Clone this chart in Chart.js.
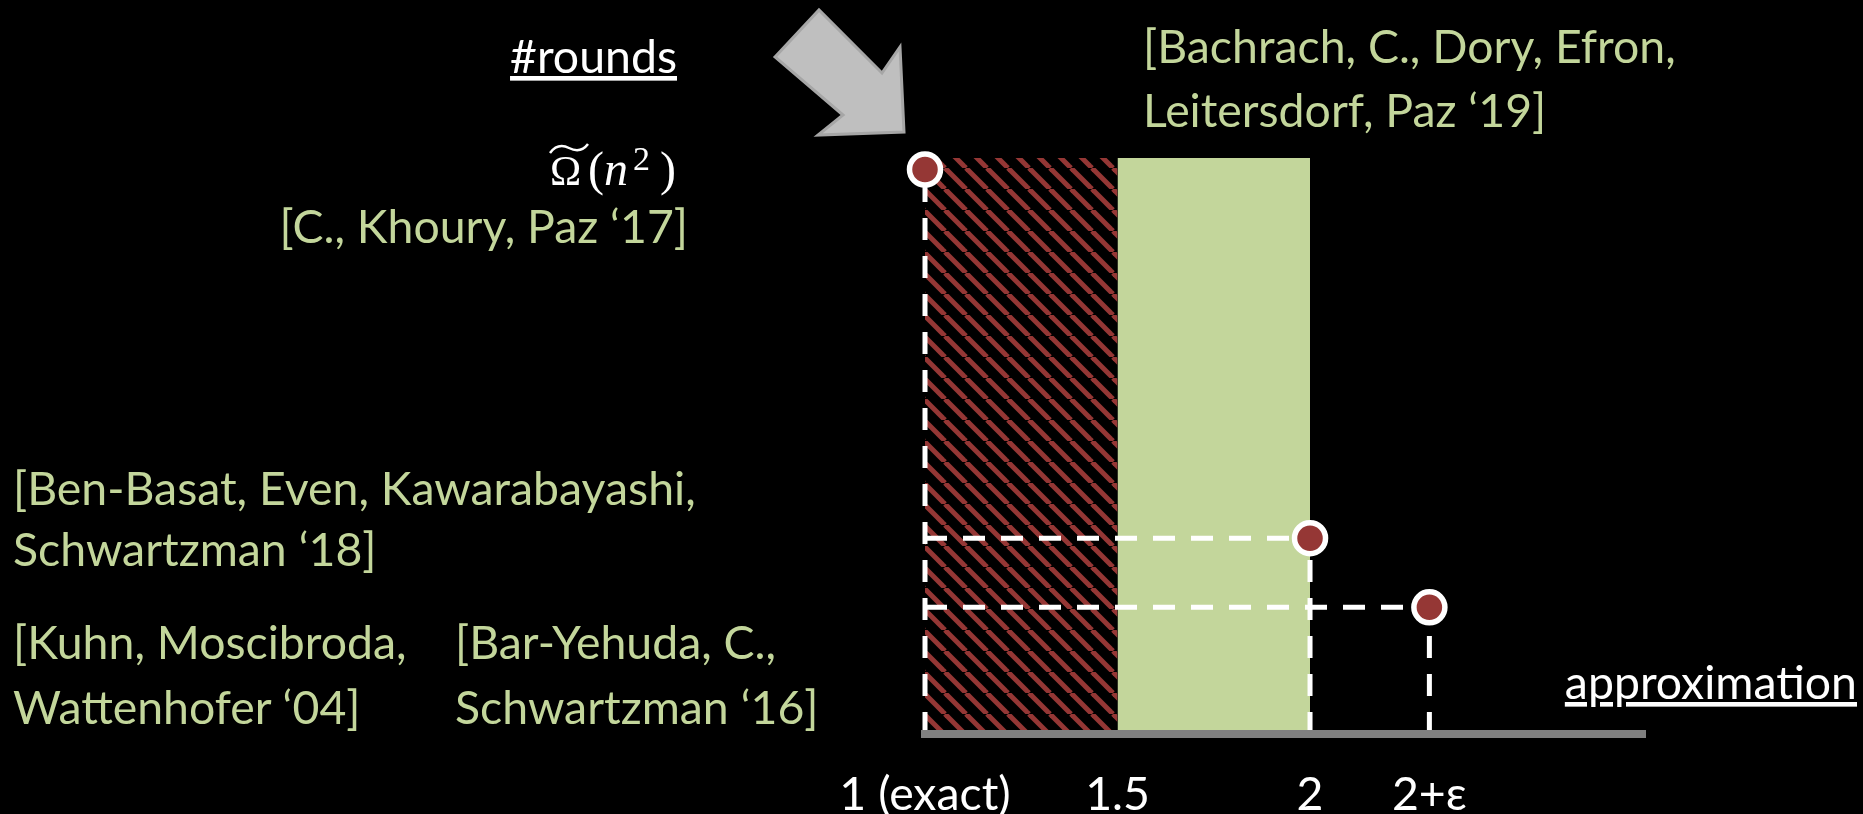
<!DOCTYPE html>
<html>
<head>
<meta charset="utf-8">
<script src="https://cdn.jsdelivr.net/npm/chart.js@4.4.1/dist/chart.umd.min.js"></script>
<style>
  html, body { margin: 0; padding: 0; background: #000; overflow: hidden; }
  #wrap { position: relative; width: 1863px; height: 814px; }
  #chart, #notes { position: absolute; left: 0; top: 0; }
  .note { font-family: Lato, sans-serif; }
  .green { fill: #c3d69b; }
  .white { fill: #ffffff; }
</style>
</head>
<body>
<div id="wrap">
  <canvas id="chart" width="1863" height="814"></canvas>
  <svg id="notes" width="1863" height="814" xmlns="http://www.w3.org/2000/svg">
    <!-- big grey arrow pointing at the top point -->
    <polygon points="775,57 819,10 882,73 900,47 904,132 818,135 843,115"
             fill="#bfbfbf" stroke="#a6a6a6" stroke-width="3" stroke-linejoin="miter"/>

    <text class="note white" x="677" y="73" text-anchor="end" text-decoration="underline">#rounds</text>

    <!-- Ω̃(n²) -->
    <text fill="#fff" font-family="Liberation Serif, serif" y="185"><tspan x="550" font-size="42">Ω</tspan><tspan x="588" font-size="48">(</tspan><tspan x="604" font-size="48" font-style="italic">n</tspan><tspan x="633" y="170" font-size="34">2</tspan><tspan x="660" y="185" font-size="48">)</tspan></text>
    <path d="M550,153 C556,145 563,145 569,148 C575,151 582,152 588,144" stroke="#fff" stroke-width="2.5" fill="none"/>

    <text class="note green" x="688" y="243" text-anchor="end">[C., Khoury, Paz ‘17]</text>

    <text class="note green" x="1143" y="63">[Bachrach, C., Dory, Efron,</text>
    <text class="note green" x="1143" y="127">Leitersdorf, Paz ‘19]</text>

    <text class="note green" x="13" y="505">[Ben-Basat, Even, Kawarabayashi,</text>
    <text class="note green" x="13" y="566">Schwartzman ‘18]</text>

    <text class="note green" x="13" y="659">[Kuhn, Moscibroda,</text>
    <text class="note green" x="13" y="724">Wattenhofer ‘04]</text>

    <text class="note green" x="455" y="659">[Bar-Yehuda, C.,</text>
    <text class="note green" x="455" y="724">Schwartzman ‘16]</text>

    <text class="note white" x="1857" y="699" text-anchor="end" text-decoration="underline">approximation</text>
  </svg>
</div>
<script>
// approximation ratio axis
var approxTicks  = [1, 1.5, 2, 2.31];
var approxLabels = ['1 (exact)', '1.5', '2', '2+ε'];
var xMax = 2.87;

// shaded ranges on the approximation axis
var lowerBoundRange = [1, 1.5];   // hatched: Ω̃(n²) lower bound region
var upperBoundRange = [1.5, 2];   // green: [Bachrach et al. '19]
var rangeTop = 10;
var yMax = 10;

// known results (approximation, #rounds)
var resultX = [1, 2, 2.31];
var resultY = [9.8, 3.4, 2.2];

// pick the font size so Lato takes the same width as the original text
var probe = document.createElement('canvas').getContext('2d');
probe.font = '40px Lato';
var fs = Math.round(40 * 683 / probe.measureText('[Ben-Basat, Even, Kawarabayashi,').width * 10) / 10;
document.querySelectorAll('.note').forEach(function (t) { t.setAttribute('font-size', fs); });

function makeHatch() {
    var s = 21;
    var c = document.createElement('canvas');
    c.width = s; c.height = s;
    var g = c.getContext('2d');
    g.strokeStyle = '#953735';
    g.lineWidth = 5;
    [-s, 0, s].forEach(function (k) {
        g.beginPath();
        g.moveTo(k, 0);
        g.lineTo(k + s, s);
        g.stroke();
    });
    return g.createPattern(c, 'repeat');
}

function area(range, color) {
    return {
        type: 'line',
        data: [{ x: range[0], y: rangeTop }, { x: range[1], y: rangeTop }],
        fill: 'origin',
        backgroundColor: color,
        borderColor: 'transparent',
        borderWidth: 0,
        pointRadius: 0,
        order: 2
    };
}

function guide(points) {
    return {
        type: 'line',
        data: points,
        borderColor: '#ffffff',
        borderWidth: 5,
        borderDash: [22, 16],
        borderCapStyle: 'butt',
        pointRadius: 0,
        fill: false,
        clip: false,
        order: 1
    };
}

var datasets = [
    area(lowerBoundRange, makeHatch()),
    area(upperBoundRange, '#c3d69b')
];

// dashed guides from each result to the axes
resultX.forEach(function (x, i) {
    datasets.push(guide([{ x: x, y: 0 }, { x: x, y: resultY[i] }]));
    if (x > approxTicks[0]) {
        datasets.push(guide([{ x: approxTicks[0], y: resultY[i] }, { x: x, y: resultY[i] }]));
    }
});

datasets.push({
    type: 'scatter',
    data: resultX.map(function (x, i) { return { x: x, y: resultY[i] }; }),
    pointRadius: 15.5,
    pointBorderWidth: 5.5,
    pointBackgroundColor: '#953735',
    pointBorderColor: '#ffffff',
    clip: false,
    order: 0
});

var ctx = document.getElementById('chart').getContext('2d');
var chart = new Chart(ctx, {
    type: 'scatter',
    data: { datasets: datasets },
    options: {
        responsive: false,
        animation: false,
        devicePixelRatio: 1,
        events: [],
        layout: { padding: { left: 925, right: 218, top: 158, bottom: -42 } },
        plugins: { legend: { display: false }, tooltip: { enabled: false } },
        scales: {
            x: {
                type: 'linear',
                position: 'bottom',
                min: approxTicks[0],
                max: xMax,
                grid: { display: false, drawTicks: false },
                border: { display: true, color: '#808080', width: 8, z: 1 },
                afterBuildTicks: function (scale) {
                    scale.ticks = approxTicks.map(function (v) { return { value: v }; });
                },
                ticks: {
                    autoSkip: false,
                    maxRotation: 0,
                    minRotation: 0,
                    padding: 61 - fs / 2,
                    color: '#ffffff',
                    font: { family: 'Lato', size: fs, lineHeight: 1 },
                    callback: function (value, index) { return approxLabels[index]; }
                }
            },
            y: { type: 'linear', min: 0, max: yMax, display: false }
        }
    }
});
</script>
</body>
</html>
